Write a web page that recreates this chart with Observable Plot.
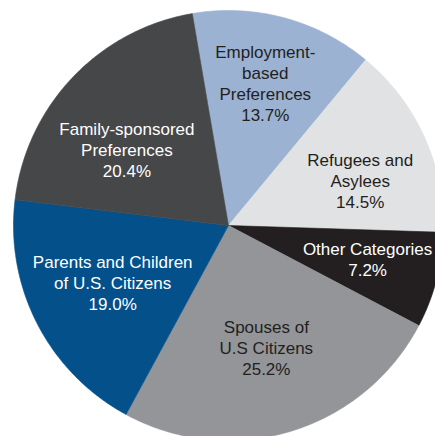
<!DOCTYPE html>
<html><head><meta charset="utf-8">
<script src="https://cdn.jsdelivr.net/npm/d3@7"></script>
<script src="https://cdn.jsdelivr.net/npm/@observablehq/plot@0.6"></script>
<style>html,body{margin:0;padding:0;background:#fff;overflow:hidden} svg{display:block}</style>
</head><body><div id="chart"></div>
<script>
// Data
const categories = ["Employment-based Preferences", "Refugees and Asylees", "Other Categories", "Spouses of U.S Citizens", "Parents and Children of U.S. Citizens", "Family-sponsored Preferences"];
const labelLines = ["Employment-\nbased\nPreferences", "Refugees and\nAsylees", "Other Categories", "Spouses of\nU.S Citizens", "Parents and Children\nof U.S. Citizens", "Family-sponsored\nPreferences"];
const shares = [13.7, 14.5, 7.2, 25.2, 19.0, 20.4];

// Styles
const sliceColors = ["#9bb2d2", "#e1e2e4", "#231f20", "#939598", "#03508a", "#464749"];
const textColors = ["#231f20", "#231f20", "#ffffff", "#231f20", "#ffffff", "#ffffff"];
// label layout: radius fraction and angle shift (deg) from slice mid-angle
const labelRadius = [0.685, 0.647, 0.665, 0.595, 0.60, 0.59];
const labelShift = [-0.5, 5.5, -1.4, -0.3, 1.2, -6.8];
const startAngle = -9.7;

const total = d3.sum(shares);
let acc = startAngle;
const slicePts = [];
const labelData = [];
shares.forEach((v, i) => {
  const a0 = acc, a1 = acc + v / total * 360; acc = a1;
  const n = Math.max(2, Math.ceil(a1 - a0) * 2);
  const pts = [{cat: categories[i], x: 0, y: 0}];
  for (let k = 0; k <= n; k++) {
    const a = (a0 + (a1 - a0) * k / n) * Math.PI / 180;
    pts.push({cat: categories[i], x: Math.sin(a), y: Math.cos(a)});
  }
  pts.push({cat: categories[i], x: 0, y: 0});
  slicePts.push(...pts);
  const am = ((a0 + a1) / 2 + labelShift[i]) * Math.PI / 180;
  labelData.push({cat: categories[i], text: labelLines[i] + "\n" + v.toFixed(1) + "%", x: labelRadius[i] * Math.sin(am), y: labelRadius[i] * Math.cos(am), color: textColors[i]});
});

const textOpts = {x: "x", y: "y", text: "text", fontSize: 17, fontFamily: "Liberation Sans, Arial, sans-serif", lineHeight: 1.235, textAnchor: "middle", lineAnchor: "middle"};

const chart = Plot.plot({
  width: 435, height: 436, margin: 0,
  style: {background: "#fff", overflow: "hidden"},
  x: {domain: [-1, 1], range: [13, 443], axis: null},
  y: {domain: [-1, 1], range: [440, 10], axis: null},
  color: {type: "ordinal", domain: categories, range: sliceColors},
  marks: [
    Plot.line(slicePts, {x: "x", y: "y", z: "cat", fill: "cat", stroke: "cat", strokeWidth: 0.6, curve: "linear"}),
    Plot.text(labelData.filter(d => d.color !== "#ffffff"), {...textOpts, fill: "#231f20"}),
    Plot.text(labelData.filter(d => d.color === "#ffffff"), {...textOpts, fill: "#ffffff"})
  ]
});
document.getElementById("chart").append(chart);
</script>
</body></html>
